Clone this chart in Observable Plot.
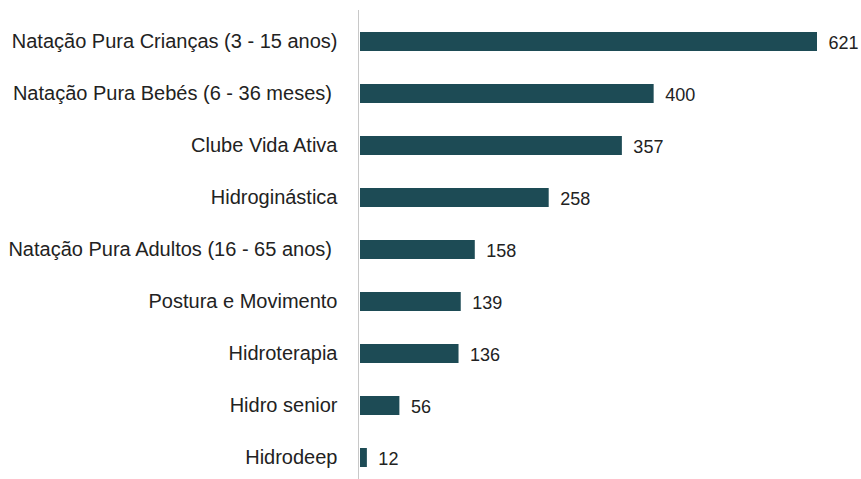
<!DOCTYPE html>
<html><head><meta charset="utf-8">
<script src="https://cdn.jsdelivr.net/npm/d3@7"></script>
<script src="https://cdn.jsdelivr.net/npm/@observablehq/plot@0.6"></script>
<style>body{margin:0;background:#fff}</style>
</head><body><div id="chart"></div>
<script>
const categories = [
  "Natação Pura Crianças (3 - 15 anos)",
  "Natação Pura Bebés (6 - 36 meses)\u00a0",
  "Clube Vida Ativa",
  "Hidroginástica",
  "Natação Pura Adultos (16 - 65 anos)\u00a0",
  "Postura e Movimento",
  "Hidroterapia",
  "Hidro senior",
  "Hidrodeep"
];
const values = [621, 400, 357, 258, 158, 139, 136, 56, 12];
const data = categories.map((c, i) => ({category: c, value: values[i]}));

const chart = Plot.plot({
  width: 861,
  height: 479,
  marginLeft: 358,
  marginRight: 44,
  marginTop: 20,
  marginBottom: 0,
  style: {fontFamily: "Liberation Sans, Arial, sans-serif", fontSize: "20px", color: "#222", background: "#fff"},
  x: {domain: [0, 621], axis: null},
  y: {domain: categories, paddingInner: 0.64, paddingOuter: 0.18, label: null, tickSize: 0, tickPadding: 21},
  marks: [
    Plot.barX(data, {x: "value", y: "category", fill: "#1d4b55", insetLeft: 2}),
    Plot.ruleX([0], {stroke: "#c8c8c8", strokeWidth: 1, insetTop: -10}),
    Plot.text(data, {x: "value", y: "category", text: d => String(d.value), textAnchor: "start", dx: 11, dy: 1, fill: "#222", fontSize: 18}),
    Plot.axisY({tickSize: 0, tickPadding: 21, fontSize: 20, label: null})
  ]
});
document.getElementById("chart").appendChild(chart);
</script>
</body></html>
